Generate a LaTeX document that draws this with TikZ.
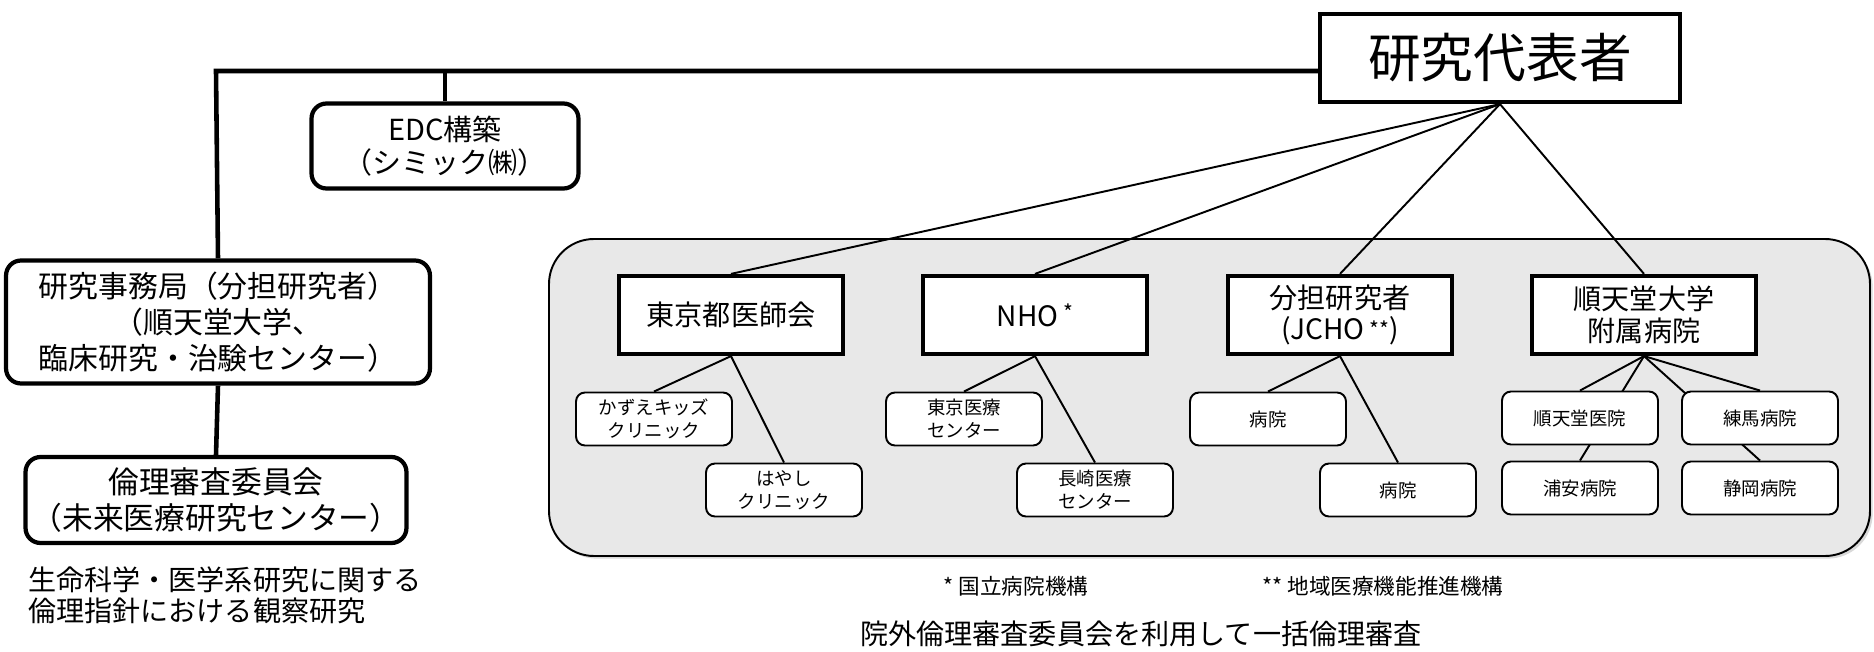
\documentclass[tikz,border=0pt]{standalone}
\usepackage{fontspec}
\setmainfont{Noto Sans CJK JP}
\usepackage{tikz}
\usetikzlibrary{positioning,backgrounds,shadows}

\begin{document}
\begin{tikzpicture}[
    x=0.02cm, y=-0.02cm,
    headbox/.style={rectangle, draw, line width=2.4pt, fill=white, minimum width=7.2cm, minimum height=1.76cm, font=\fontsize{30}{36}\selectfont},
    officebox/.style={rectangle, draw, rounded corners=0.3cm, line width=2.4pt, fill=white, align=center},
    groupbox/.style={rectangle, draw, line width=2.4pt, fill=white, minimum width=4.48cm, minimum height=1.56cm, align=center, font=\fontsize{16}{18}\selectfont},
    sitebox/.style={rectangle, draw, rounded corners=0.18cm, line width=1.1pt, fill=white, minimum width=3.12cm, minimum height=1.06cm, align=center, font=\fontsize{10.5}{13}\selectfont},
    trunk/.style={line width=2.6pt},
    link/.style={line width=1.1pt}
]
    \useasboundingbox (0,0) rectangle (1874,652);

    % Top
    \node[headbox] (rep) at (1500,58) {研究代表者};

    % Left side
    \node[officebox, minimum width=5.34cm, minimum height=1.7cm, font=\fontsize{16.5}{19}\selectfont] (edc) at (445,146) {EDC構築\\（シミック㈱）};
    \node[officebox, minimum width=8.48cm, minimum height=2.46cm, font=\fontsize{17}{20.5}\selectfont] (office) at (218,322) {研究事務局（分担研究者）\\（順天堂大学、\\臨床研究・治験センター）};
    \node[officebox, minimum width=7.62cm, minimum height=1.72cm, font=\fontsize{17.5}{20}\selectfont] (irb) at (216,500) {倫理審査委員会\\（未来医療研究センター）};
    \node[anchor=west, align=left, font=\fontsize{16}{17.5}\selectfont] (guideline) at (22,595) {生命科学・医学系研究に関する\\倫理指針における観察研究};

    % Groups
    \node[groupbox] (tmed) at (731,315) {東京都医師会};
    \node[groupbox] (nho) at (1035,315) {NHO\,\raisebox{0.2em}{\fontsize{12}{12}\selectfont *}};
    \node[groupbox] (jcho) at (1340,315) {分担研究者\\(JCHO\,\raisebox{0.1em}{\fontsize{12}{12}\selectfont **})};
    \node[groupbox] (jun) at (1644,315) {順天堂大学\\附属病院};

    % Sites
    \node[sitebox] (kazue) at (654,419) {かずえキッズ\\クリニック};
    \node[sitebox] (hayashi) at (784,490) {はやし\\クリニック};
    \node[sitebox] (tokyo) at (964,419) {東京医療\\センター};
    \node[sitebox] (nagasaki) at (1095,490) {長崎医療\\センター};
    \node[sitebox] (hospa) at (1268,419) {病院};
    \node[sitebox] (hospb) at (1398,490) {病院};
    \node[sitebox] (juntendo) at (1580,418) {順天堂医院};
    \node[sitebox] (nerima) at (1760,418) {練馬病院};
    \node[sitebox] (urayasu) at (1580,488) {浦安病院};
    \node[sitebox] (shizuoka) at (1760,488) {静岡病院};

    % Notes
    \node[font=\fontsize{12.3}{14}\selectfont] (fna) at (1016,586) {* 国立病院機構};
    \node[font=\fontsize{12.3}{14}\selectfont] (fnb) at (1383,586) {** 地域医療機能推進機構};
    \node[font=\fontsize{16}{19}\selectfont] (summary) at (1141,634) {院外倫理審査委員会を利用して一括倫理審査};

    \begin{scope}[on background layer]
        % Group panel
        \draw[line width=1.1pt, fill=black!9, rounded corners=0.9cm, drop shadow={shadow xshift=1.5pt, shadow yshift=-1.5pt, opacity=0.3}] (549,239) rectangle (1870,556);

        % Trunk lines
        \coordinate (bend) at (216,71);
        \draw[trunk] (office.north) -- (bend) -- (bend -| rep.west);
        \draw[trunk] (edc.north) -- (edc.north |- bend);
        \draw[trunk] (office.south) -- (irb.north);

        % Links
        \foreach \grp in {tmed,nho,jcho,jun}
            \draw[link] (rep.south) -- (\grp.north);
        \draw[link] (tmed.south) -- (kazue.north);
        \draw[link] (tmed.south) -- (hayashi.north);
        \draw[link] (nho.south) -- (tokyo.north);
        \draw[link] (nho.south) -- (nagasaki.north);
        \draw[link] (jcho.south) -- (hospa.north);
        \draw[link] (jcho.south) -- (hospb.north);
        \foreach \site in {juntendo,nerima,urayasu,shizuoka}
            \draw[link] (jun.south) -- (\site.north);
    \end{scope}
\end{tikzpicture}
\end{document}
